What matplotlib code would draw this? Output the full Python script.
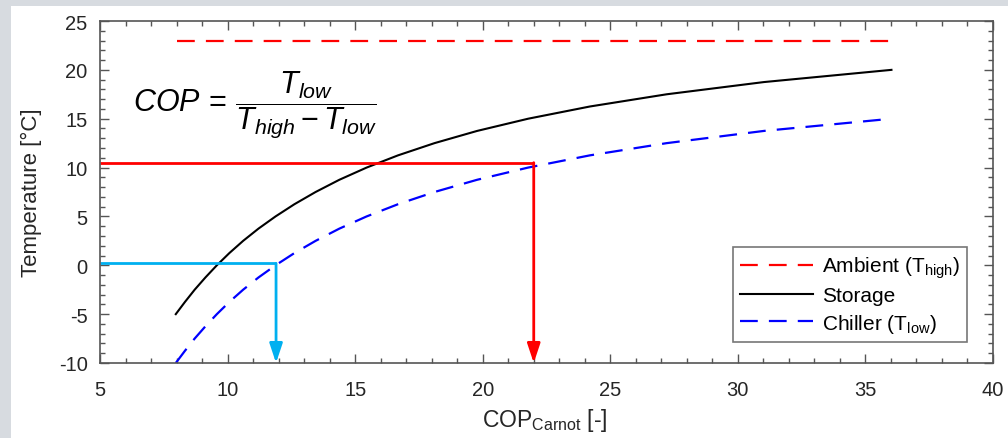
import matplotlib
matplotlib.use("Agg")
import matplotlib.pyplot as plt
from matplotlib.patches import Rectangle
from matplotlib.ticker import MultipleLocator

plt.rcParams['font.family'] = ['Liberation Sans', 'DejaVu Sans']
plt.rcParams['mathtext.fontset'] = 'custom'
plt.rcParams['mathtext.rm'] = 'Liberation Sans'
plt.rcParams['mathtext.it'] = 'Liberation Sans:italic'
plt.rcParams['mathtext.bf'] = 'Liberation Sans:bold'
plt.rcParams['axes.unicode_minus'] = False

# ---- data ----
cop_values = [7.97, 8.33, 8.71, 9.13, 9.58, 10.07, 10.61, 11.21, 11.88, 12.62,
              13.45, 14.38, 15.45, 16.68, 18.11, 19.78, 21.78, 24.20, 27.21,
              31.02, 36.02]
chiller_temp = [-10, -8.75, -7.5, -6.25, -5, -3.75, -2.5, -1.25, 0, 1.25,
                2.5, 3.75, 5, 6.25, 7.5, 8.75, 10, 11.25, 12.5, 13.75, 15]
storage_temp = [-5, -3.75, -2.5, -1.25, 0, 1.25, 2.5, 3.75, 5, 6.25,
                7.5, 8.75, 10, 11.25, 12.5, 13.75, 15, 16.25, 17.5, 18.75, 20]
ambient_x = [8, 36]
ambient_temp = [23, 23]

red_marker = (22.0, 10.5)     # (COP, temperature)
cyan_marker = (11.9, 0.2)

xticks = [5, 10, 15, 20, 25, 30, 35, 40]
yticks = [-10, -5, 0, 5, 10, 15, 20, 25]

W, H = 1008, 439
fig = plt.figure(figsize=(W / 100, H / 100), dpi=100)
fig.patch.set_facecolor('#d7dbe0')
fig.patches.append(Rectangle((11 / W, 0), 1 - 11 / W, 1 - 7 / H,
                             transform=fig.transFigure, facecolor='white',
                             edgecolor='none', zorder=-10))

ax_l, ax_r, ax_t, ax_b = 100, 993, 22, 364
ax = fig.add_axes([ax_l / W, 1 - ax_b / H, (ax_r - ax_l) / W, (ax_b - ax_t) / H])
ax.set_zorder(1)
ax.set_facecolor('white')

ax.plot(ambient_x, ambient_temp, color='#ff0000', lw=1.6, dashes=[8, 5],
        label='Ambient (T$_{\\mathregular{high}}$)')
ax.plot(cop_values, storage_temp, color='black', lw=1.5, label='Storage')
ax.plot(cop_values, chiller_temp, color='#0000ff', lw=1.6, dashes=[8, 5],
        label='Chiller (T$_{\\mathregular{low}}$)')

for (mx, my), col in ((red_marker, '#ff0000'), (cyan_marker, '#00b0f0')):
    ax.plot([xticks[0], mx], [my, my], color=col, lw=2, solid_capstyle='butt')
    ax.annotate('', xy=(mx, yticks[0]), xytext=(mx, my),
                arrowprops=dict(arrowstyle='-|>,head_length=0.9,head_width=0.3',
                                color=col, lw=2, shrinkA=0, shrinkB=0,
                                mutation_scale=13))

ax.set_xlim(xticks[0], xticks[-1])
ax.set_ylim(yticks[0], yticks[-1])
ax.set_xticks(xticks)
ax.set_yticks(yticks)
ax.xaxis.set_minor_locator(MultipleLocator(1))
ax.yaxis.set_minor_locator(MultipleLocator(1))
ax.tick_params(which='both', direction='in', top=True, right=True,
               color='#555555', width=1)
ax.tick_params(which='major', length=6.5, labelsize=14.5, labelcolor='#262626')
ax.tick_params(axis='x', which='major', pad=12)
ax.tick_params(axis='y', which='major', pad=9)
ax.tick_params(which='minor', length=3.5)
for s in ax.spines.values():
    s.set_color('#555555')
    s.set_linewidth(1.2)

ax.set_xlabel('COP$_{\\mathregular{Carnot}}$ [-]', fontsize=16.5, color='#262626')
ax.set_ylabel('Temperature [°C]', fontsize=16, color='#262626')
ax.xaxis.set_label_coords((545 - ax_l) / (ax_r - ax_l), (ax_b - 407) / (ax_b - ax_t))
ax.yaxis.set_label_coords((42 - ax_l) / (ax_r - ax_l), 0.5)

ax.text((133 - ax_l) / (ax_r - ax_l), (ax_b - 105) / (ax_b - ax_t),
        r'$COP\,=\,\dfrac{T_{low}}{T_{high} - T_{low}}$',
        transform=ax.transAxes, fontsize=22, va='center', ha='left')

leg = ax.legend(loc='lower right',
                bbox_to_anchor=((967 - ax_l) / (ax_r - ax_l), (ax_b - 343) / (ax_b - ax_t)),
                fontsize=15, frameon=True, fancybox=False, handlelength=3.5,
                borderpad=0.35, labelspacing=0.3, handletextpad=0.4,
                borderaxespad=0)
leg.get_frame().set_edgecolor('#555555')
leg.get_frame().set_linewidth(1.2)

fig.savefig('out.png', dpi=100, facecolor=fig.get_facecolor())
